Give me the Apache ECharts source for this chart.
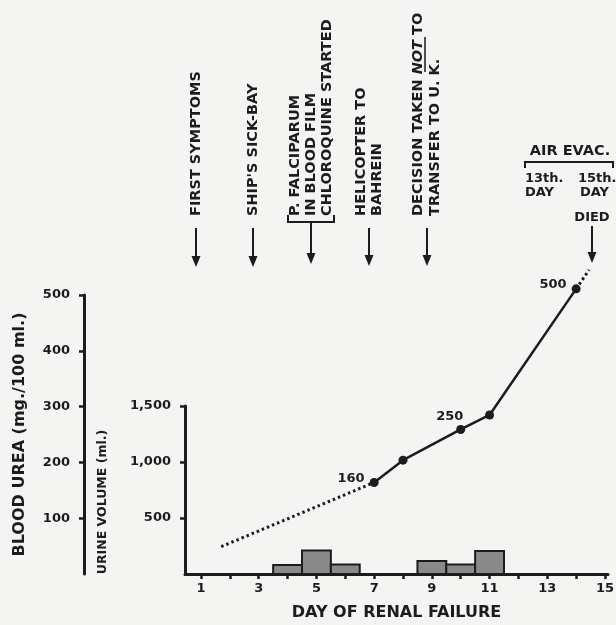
<!DOCTYPE html>
<html><head><meta charset="utf-8">
<script src="https://cdn.jsdelivr.net/npm/echarts@6/dist/echarts.min.js"></script>
<style>html,body{margin:0;padding:0;background:#f4f4f2;}#c{width:616px;height:625px;}</style>
</head><body><div id="c"></div>
<script>
// ---- data ----
const ureaDays = [7, 8, 10, 11, 14];
const ureaValues = [164, 204, 259, 285, 511];
const ureaPointLabels = ['160', '', '250', '', '500'];
const ureaLeadDays = [1.7, 7];
const ureaLeadValues = [49, 164];
const ureaTrailDays = [14, 14.45];
const ureaTrailValues = [511, 545];
const urineDays = [4, 5, 6, 9, 10, 11];
const urineValues = [80, 210, 85, 115, 85, 205];
const dayTicks = [1, 2, 3, 4, 5, 6, 7, 8, 9, 10, 11, 12, 13, 14, 15];
const dayLabels = [1, 3, 5, 7, 9, 11, 13, 15];
const ureaMax = 500, ureaStep = 100;
const urineMax = 1500, urineStep = 500;

// ---- styles ----
const INK = '#1c1c1c';
const F = 'DejaVu Sans';
const xMin = 0.445, xMax = 15.104;

const chart = echarts.init(document.getElementById('c'), null, {renderer: 'canvas'});

const ureaData = ureaDays.map((d, i) => {
  const item = {value: [d, ureaValues[i]]};
  if (ureaPointLabels[i]) {
    const pos = {160: ['left', [0, -4]], 250: ['top', [-11, 3]], 500: ['left', [0, -4]]}[ureaPointLabels[i]];
    item.label = {show: true, formatter: ureaPointLabels[i], position: pos[0], offset: pos[1],
      color: INK, fontFamily: F, fontWeight: 'bold', fontSize: 13};
  }
  return item;
});

const txt = (x, y, text, opts) => Object.assign({
  type: 'text', x: x, y: y,
  style: Object.assign({text: text, fill: INK, font: 'bold 14.5px "DejaVu Sans"', textAlign: 'center', textVerticalAlign: 'middle'}, (opts && opts.style) || {})
}, opts && opts.rotation !== undefined ? {rotation: opts.rotation} : {});

const vtxt = (x, text, lh, rich) => ({
  type: 'text', x: x, y: 216, rotation: Math.PI / 2,
  style: Object.assign({text: text, fill: INK, font: 'bold 14.5px "DejaVu Sans"', textAlign: 'left', textVerticalAlign: 'middle', lineHeight: lh || 16}, rich ? {rich: rich} : {})
});

const arrow = (x, y0, y1) => ([
  {type: 'line', shape: {x1: x, y1: y0, x2: x, y2: y1 - 6}, style: {stroke: INK, lineWidth: 2}},
  {type: 'polygon', shape: {points: [[x - 4.5, y1 - 11], [x + 4.5, y1 - 11], [x, y1]]}, style: {fill: INK}}
]);

const small = (align) => ({style: {font: 'bold 13px "DejaVu Sans"', textAlign: align}});

const graphics = [].concat(
  [vtxt(196, 'FIRST SYMPTOMS')], arrow(196, 228, 267),
  [vtxt(253, "SHIP'S SICK-BAY")], arrow(253, 228, 267),
  [vtxt(311, 'P. FALCIPARUM\nIN BLOOD FILM\nCHLOROQUINE STARTED')],
  [{type: 'polyline', shape: {points: [[288, 215], [288, 222], [334, 222], [334, 215]]}, style: {stroke: INK, lineWidth: 2, fill: null}}],
  arrow(311, 222, 264),
  [vtxt(369, 'HELICOPTER TO\nBAHREIN')], arrow(369, 228, 266),
  [vtxt(427, 'DECISION TAKEN {n|NOT} TO\nTRANSFER TO U. K.', 17,
    {n: {font: 'italic bold 14.5px "DejaVu Sans"', fill: INK}})],
  [{type: 'line', shape: {x1: 425, y1: 72, x2: 425, y2: 37}, style: {stroke: INK, lineWidth: 1.5}}],
  arrow(427, 228, 266),
  [txt(570, 151, 'AIR EVAC.')],
  [{type: 'polyline', shape: {points: [[525, 168], [525, 162], [613, 162], [613, 168]]}, style: {stroke: INK, lineWidth: 2, fill: null}}],
  [txt(525, 179, '13th.', small('left')), txt(525, 193, 'DAY', small('left'))],
  [txt(578, 179, '15th.', small('left')), txt(580, 193, 'DAY', small('left'))],
  [txt(592, 218, 'DIED', small('center'))],
  arrow(592, 226, 263)
);

const axisCommon = {
  axisLine: {show: true, lineStyle: {color: INK, width: 3}},
  axisTick: {show: true, inside: false, length: 5, lineStyle: {color: INK, width: 2.5}},
  splitLine: {show: false},
  axisLabel: {color: INK, fontFamily: F, fontWeight: 'bold', fontSize: 13}
};

chart.setOption({
  backgroundColor: '#f4f4f2',
  animation: false,
  textStyle: {fontFamily: F},
  grid: [
    {left: 185, top: 295, width: 423, height: 279, outerBoundsMode: 'none'},
    {left: 185, top: 406, width: 423, height: 168, outerBoundsMode: 'none'}
  ],
  xAxis: [
    {type: 'value', gridIndex: 0, min: xMin, max: xMax, show: false},
    Object.assign({}, axisCommon, {
      type: 'value', gridIndex: 1, min: xMin, max: xMax,
      axisTick: Object.assign({}, axisCommon.axisTick, {customValues: dayTicks}),
      axisLabel: Object.assign({}, axisCommon.axisLabel, {customValues: dayLabels, margin: 8}),
      name: 'DAY OF RENAL FAILURE', nameLocation: 'middle', nameGap: 31,
      nameTextStyle: {color: INK, fontFamily: F, fontWeight: 'bold', fontSize: 16}
    })
  ],
  yAxis: [
    Object.assign({}, axisCommon, {
      type: 'value', gridIndex: 0, position: 'left', offset: 101,
      min: 0, max: ureaMax, interval: ureaStep,
      axisLabel: Object.assign({}, axisCommon.axisLabel, {margin: 14, showMinLabel: false,
        formatter: v => v === 0 ? '' : String(v)}),
      name: 'BLOOD UREA (mg./100 ml.)', nameLocation: 'middle', nameRotate: 90, nameGap: 56,
      nameTextStyle: {color: INK, fontFamily: F, fontWeight: 'bold', fontSize: 16}
    }),
    Object.assign({}, axisCommon, {
      type: 'value', gridIndex: 1, position: 'left', offset: 0,
      min: 0, max: urineMax, interval: urineStep,
      axisLabel: Object.assign({}, axisCommon.axisLabel, {margin: 14, showMinLabel: false,
        formatter: v => v === 0 ? '' : v.toLocaleString('en-US')}),
      name: 'URINE VOLUME (ml.)', nameLocation: 'middle', nameRotate: 90, nameGap: 76,
      nameTextStyle: {color: INK, fontFamily: F, fontWeight: 'bold', fontSize: 12.5, padding: [0, 24, 0, 0]}
    })
  ],
  series: [
    {
      type: 'custom', xAxisIndex: 1, yAxisIndex: 1, clip: false,
      data: urineDays.map((d, i) => [d, urineValues[i]]),
      renderItem: function (params, api) {
        const d = api.value(0), v = api.value(1);
        const p0 = api.coord([d - 0.5, v]);
        const p1 = api.coord([d + 0.5, 0]);
        return {type: 'rect', shape: {x: p0[0], y: p0[1], width: p1[0] - p0[0], height: p1[1] - p0[1]},
          style: {fill: '#8a8a8a', stroke: INK, lineWidth: 2}};
      }
    },
    {
      type: 'line', xAxisIndex: 0, yAxisIndex: 0, clip: false, symbol: 'none',
      data: ureaLeadDays.map((d, i) => [d, ureaLeadValues[i]]),
      lineStyle: {color: INK, width: 3, type: [2.5, 3]}
    },
    {
      type: 'line', xAxisIndex: 0, yAxisIndex: 0, clip: false, symbol: 'none',
      data: ureaTrailDays.map((d, i) => [d, ureaTrailValues[i]]),
      lineStyle: {color: INK, width: 3, type: [2.5, 3]}
    },
    {
      type: 'line', xAxisIndex: 0, yAxisIndex: 0, clip: false,
      symbol: 'circle', symbolSize: 9,
      itemStyle: {color: INK},
      lineStyle: {color: INK, width: 2.5},
      data: ureaData,
      markPoint: {
        symbol: 'circle', symbolSize: 0,
        data: [{coord: [ureaDays[4], ureaValues[4]],
          label: {show: true, position: 'inside', formatter: 'ADEN', offset: [16, 19],
            color: INK, fontFamily: F, fontWeight: 'bold', fontSize: 13}}]
      }
    }
  ],
  graphic: graphics
});
</script></body></html>
